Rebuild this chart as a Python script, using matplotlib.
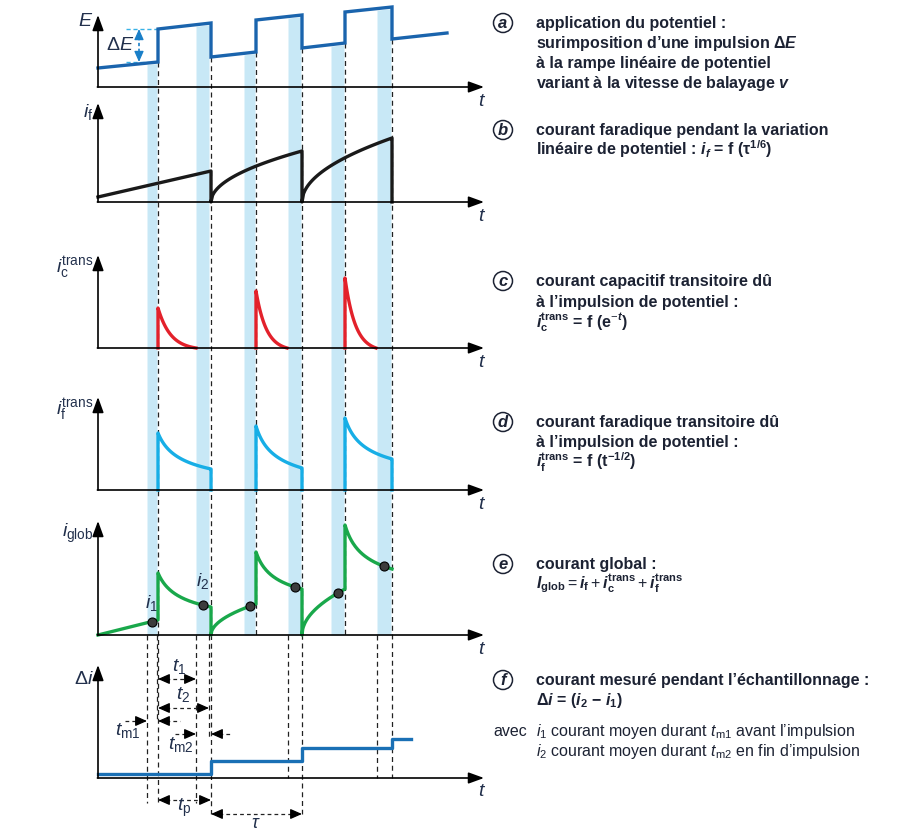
import numpy as np
import matplotlib
matplotlib.use('Agg')
import matplotlib.pyplot as plt
from matplotlib.patches import Circle

plt.rcParams['font.family'] = ['Liberation Sans', 'DejaVu Sans']
plt.rcParams['mathtext.fontset'] = 'custom'
plt.rcParams['mathtext.rm'] = 'Liberation Sans'
plt.rcParams['mathtext.it'] = 'Liberation Sans:italic'
plt.rcParams['mathtext.bf'] = 'Liberation Sans:bold'
plt.rcParams['mathtext.bfit'] = 'Liberation Sans:bold:italic'

# --- temps (axe commun, unités = px) ---
t_start = 98
t_axis_end = 484
pulse_on = [158, 256, 345]
pulse_off = [211, 302, 392]
win_before = [(147, 157), (244, 255), (331, 344)]   # t_m1
win_end = [(196, 209), (288, 301), (377, 391)]      # t_m2

# a) potentiel E
E_t = [98, 158, 158, 211, 211, 256, 256, 302, 302, 345, 345, 392, 392, 447]
E_v = [19, 25, 58, 64, 30, 35, 67, 72, 39, 44, 75, 80, 48, 54]

# b) courant faradique i_f
if_lin = [5, 31]          # rampe initiale (98 -> 211)
if_rise = [51, 64]        # valeur atteinte en fin de période

# c) courant capacitif transitoire
ic_peak = [40, 57, 70]
ic_stop = [196, 287, 376]

# d) courant faradique transitoire
ift_peak = [57, 64, 72]
ift_end = [21, 22, 31]

# e) courant global
glob_pre = [15, 31, 46]
glob_peak = [62, 83, 110]
glob_end = [28, 46, 66]

# f) delta i
di_t = [98, 211, 302, 392, 411]
di_v = [4, 17, 30, 39, 39]

# géométrie des panneaux (ligne de base, sommet de l'axe)
base = [87, 202, 348, 490, 635, 778]
top = [15, 103, 255, 397, 521, 665]

C_E = '#1a64ad'
C_RED = '#e3212b'
C_CYAN = '#17aee6'
C_GREEN = '#19a84b'
C_DI = '#1a70b5'
C_BAND = '#c8e8f6'
C_TXT = '#1c2233'
C_LAB = '#22304c'


def rise(x0, x1, v0, v1, p=0.5, n=60):
    s = np.linspace(0, 1, n)
    return list(x0 + (x1 - x0) * s), list(v0 + (v1 - v0) * s ** p)


def decay_exp(x0, x1, v0, v1, k=3.0, n=60):
    s = np.linspace(0, 1, n)
    g = (np.exp(-k * s) - np.exp(-k)) / (1 - np.exp(-k))
    return list(x0 + (x1 - x0) * s), list(v1 + (v0 - v1) * g)


def decay_sqrt(x0, x1, v0, v1, k=4.0, n=60):
    s = np.linspace(0, 1, n)
    f = 1 / np.sqrt(1 + k * s)
    g = (f - f[-1]) / (1 - f[-1])
    return list(x0 + (x1 - x0) * s), list(v1 + (v0 - v1) * g)


fig = plt.figure(figsize=(9.11, 8.34), dpi=100)
ax = fig.add_axes([0, 0, 1, 1])
ax.set_xlim(0, 911)
ax.set_ylim(834, 0)
ax.axis('off')


def Y(i, v):
    return base[i] - np.asarray(v, dtype=float)


def head(x, y, dx, dy, color='black', ms=14):
    ax.annotate('', xy=(x, y), xytext=(x - dx, y - dy),
                arrowprops=dict(arrowstyle='-|>,head_length=0.5,head_width=0.22',
                                color=color, lw=0.9,
                                mutation_scale=ms, shrinkA=0, shrinkB=0),
                zorder=6)


# --- bandes d'échantillonnage ---
for (x0, x1) in win_before + win_end:
    xs = np.linspace(x0, x1, 10)
    ax.fill_between(xs, Y(0, np.interp(xs, E_t, E_v)) + 1.5, base[4],
                    color=C_BAND, lw=0, zorder=1)

# --- pointillés verticaux ---
dash = dict(color='#222222', lw=0.9, ls=(0, (4, 3)), zorder=2)
upper_bottom = [802, 635, 635]
lower_bottom_off = [814, 814, 778]
for i in range(3):
    e_low = np.interp(pulse_on[i] - 0.01, E_t, E_v)
    ax.plot([pulse_on[i], pulse_on[i]], [Y(0, e_low), upper_bottom[i]], **dash)
    e_low2 = E_v[E_t.index(pulse_off[i]) + 1]
    ax.plot([pulse_off[i], pulse_off[i]], [Y(0, e_low2), lower_bottom_off[i]], **dash)
low_lines = [(win_before[0][0], 803), (win_before[0][1], 722), (win_end[0][0], 803),
             (win_end[0][1], 737), (win_end[1][0], 778), (win_end[2][0], 778)]
for x, yb in low_lines:
    ax.plot([x, x], [base[4], yb], **dash)

# --- axes ---
axis_arrow = dict(arrowstyle='-|>,head_length=0.55,head_width=0.2', color='black',
                  lw=1.2, mutation_scale=17, shrinkA=0, shrinkB=0)
for i in range(6):
    ax.annotate('', xy=(t_start, top[i]), xytext=(t_start, base[i]),
                arrowprops=axis_arrow, zorder=5)
    ax.annotate('', xy=(t_axis_end, base[i]), xytext=(t_start - 0.6, base[i]),
                arrowprops=axis_arrow, zorder=5)
    ax.text(482, base[i] + 14, '$t$', fontsize=14, color=C_LAB, ha='center', va='center')

lw = 2.4
# a) E
ax.plot(E_t, Y(0, E_v), color=C_E, lw=lw, zorder=4, solid_joinstyle='miter')
# Delta E
yb, yt = Y(0, E_v[1]), Y(0, E_v[2])
for yy in (yb, yt):
    ax.plot([126, pulse_on[0]], [yy, yy], color='#38b2e6', lw=1.0, ls=(0, (3, 2)), zorder=3)
ax.plot([139, 139], [yt + 8, yb - 8], color='#1a7fc8', lw=1.2, ls=(0, (2, 1.5)), zorder=3)
head(139, yt, 0, -10, color='#1a7fc8', ms=13)
head(139, yb, 0, 10, color='#1a7fc8', ms=13)
ax.text(120, 45, r'$\Delta E$', fontsize=14, color=C_LAB, ha='center', va='center')

# b) i_f
bx = [t_start, pulse_off[0], pulse_off[0]]
bv = [if_lin[0], if_lin[1], 0]
for i in range(2):
    xs, vs = rise(pulse_off[i], pulse_off[i + 1], 0, if_rise[i])
    bx += xs + [pulse_off[i + 1]]
    bv += vs + [0]
ax.plot(bx, Y(1, bv), color='#1a1a1a', lw=lw, zorder=4)

# c) i_c trans
for i in range(3):
    xs, vs = decay_exp(pulse_on[i], ic_stop[i], ic_peak[i], 0)
    ax.plot([pulse_on[i]] + xs, Y(2, [0] + vs), color=C_RED, lw=lw, zorder=4)

# d) i_f trans
for i in range(3):
    xs, vs = decay_sqrt(pulse_on[i], pulse_off[i], ift_peak[i], ift_end[i])
    ax.plot([pulse_on[i]] + xs + [pulse_off[i]], Y(3, [0] + vs + [0]),
            color=C_CYAN, lw=lw, zorder=4)

# e) i_glob
gx = [t_start, pulse_on[0]]
gv = [0, glob_pre[0]]
for i in range(3):
    if i > 0:
        xs, vs = rise(pulse_off[i - 1], pulse_on[i], 0, glob_pre[i])
        gx += xs
        gv += vs
    xs, vs = decay_sqrt(pulse_on[i], pulse_off[i], glob_peak[i], glob_end[i])
    gx += xs
    gv += vs
    if i < 2:
        gx += [pulse_off[i]]
        gv += [0]
ax.plot(gx, Y(4, gv), color=C_GREEN, lw=lw, zorder=4)
dot_t = [(a + b) / 2 for (a, b) in win_before + win_end]
gx_u = np.array(gx) + np.arange(len(gx)) * 1e-6
dot_v = np.interp(dot_t, gx_u, gv)
ax.plot(dot_t, Y(4, dot_v), 'o', ms=6.5, mfc='#3c3c3c', mec='black', mew=0.8, zorder=5)
ax.text(152, 603, '$i_1$', fontsize=14, color=C_LAB, ha='center', va='center')
ax.text(203, 581, '$i_2$', fontsize=14, color=C_LAB, ha='center', va='center')

# f) delta i
ax.step(di_t, Y(5, di_v), where='post', color=C_DI, lw=lw, zorder=4)

# flèches de durée (pointillés)
adash = dict(color='#222222', lw=0.9, ls=(0, (3, 2.5)), zorder=3)


def span(x0, x1, y):
    ax.plot([x0 + 8, x1 - 8], [y, y], **adash)
    head(x0, y, -10, 0)
    head(x1, y, 10, 0)


def inward(x0, x1, y, length):
    ax.plot([x0 - length, x0 - 8], [y, y], **adash)
    head(x0, y, 10, 0)
    ax.plot([x1 + 8, x1 + length], [y, y], **adash)
    head(x1, y, -10, 0)


span(pulse_on[0], win_end[0][0], 679)
span(pulse_on[0], win_end[0][1], 708)
inward(win_before[0][0], pulse_on[0], 721, 22)
inward(win_end[0][0], pulse_off[0], 734, 21)
span(pulse_on[0], pulse_off[0], 800)
span(pulse_off[0], pulse_off[1], 814)

lab = dict(fontsize=14, color=C_LAB, ha='center', va='center')
ax.text(179, 666, '$t_1$', **lab)
ax.text(183, 694, '$t_2$', **lab)
ax.text(128, 731, r'$t_{\mathrm{m1}}$', **lab)
ax.text(181, 745, r'$t_{\mathrm{m2}}$', **lab)
ax.text(184, 808, r'$t_{\mathrm{p}}$', **lab)
ax.text(256, 824, r'$\tau$', fontsize=13, color=C_LAB, ha='center', va='center')

# étiquettes des ordonnées
ylab = dict(fontsize=14, color=C_LAB, ha='right', va='center')
ax.text(93, 21, '$E$', **ylab)
ax.text(93, 112, r'$i_{\mathrm{f}}$', **ylab)
ax.text(93, 268, r'$i_{\mathrm{c}}^{\mathrm{trans}}$', **ylab)
ax.text(93, 410, r'$i_{\mathrm{f}}^{\mathrm{trans}}$', **ylab)
ax.text(94, 533, r'$i_{\mathrm{glob}}$', **ylab)
ax.text(94, 679, r'$\Delta i$', **ylab)

# --- légende de droite ---
letters = ['a', 'b', 'c', 'd', 'e', 'f']
letter_y = [23, 130, 281, 422, 564, 680]
blocks = [
    ['application du potentiel :',
     'surimposition d’une impulsion Δ$\\mathbfit{E}$',
     'à la rampe linéaire de potentiel',
     'variant à la vitesse de balayage $\\mathbfit{v}$'],
    ['courant faradique pendant la variation',
     'linéaire de potentiel : $\\mathbfit{i}_{\\mathbfit{f}}$ = f (τ$^{\\mathbf{1/6}}$)'],
    ['courant capacitif transitoire dû',
     'à l’impulsion de potentiel :',
     '$\\mathbfit{i}_{\\mathbf{c}}^{\\mathbf{trans}}$ = f (e$^{-\\mathbfit{t}}$)'],
    ['courant faradique transitoire dû',
     'à l’impulsion de potentiel :',
     '$\\mathbfit{i}_{\\mathbf{f}}^{\\mathbf{trans}}$ = f (t$^{\\mathbf{-1/2}}$)'],
    ['courant global :',
     '$\\mathbfit{I}_{\\mathbf{glob}} = \\mathbfit{i}_{\\mathbf{f}} + '
     '\\mathbfit{i}_{\\mathbf{c}}^{\\mathbf{trans}} + \\mathbfit{i}_{\\mathbf{f}}^{\\mathbf{trans}}$'],
    ['courant mesuré pendant l’échantillonnage :',
     'Δ$\\mathbfit{i}$ = ($\\mathbfit{i}_{\\mathbf{2}}$ − $\\mathbfit{i}_{\\mathbf{1}}$)'],
]
line_gap = [20, 20, 20.5, 20, 19, 20.5]
for L, yc, lines, gap in zip(letters, letter_y, blocks, line_gap):
    ax.add_patch(Circle((503, yc), 9.5, fill=False, lw=1.1, color=C_TXT, zorder=5))
    ax.text(503, yc + 0.5, L, fontsize=12, fontweight='bold', fontstyle='italic',
            color=C_TXT, ha='center', va='center')
    for k, s in enumerate(lines):
        ax.text(536, yc + k * gap + 5, s, fontsize=11.5, fontweight='bold',
                color=C_TXT, ha='left', va='baseline')

ax.text(493, 736, 'avec', fontsize=11.5, color=C_TXT, ha='left', va='baseline')
ax.text(536, 736, '$i_1$ courant moyen durant $t_{\\mathrm{m1}}$ avant l’impulsion',
        fontsize=11.5, color=C_TXT, ha='left', va='baseline')
ax.text(536, 756, '$i_2$ courant moyen durant $t_{\\mathrm{m2}}$ en fin d’impulsion',
        fontsize=11.5, color=C_TXT, ha='left', va='baseline')

fig.savefig('out.png', dpi=100)
